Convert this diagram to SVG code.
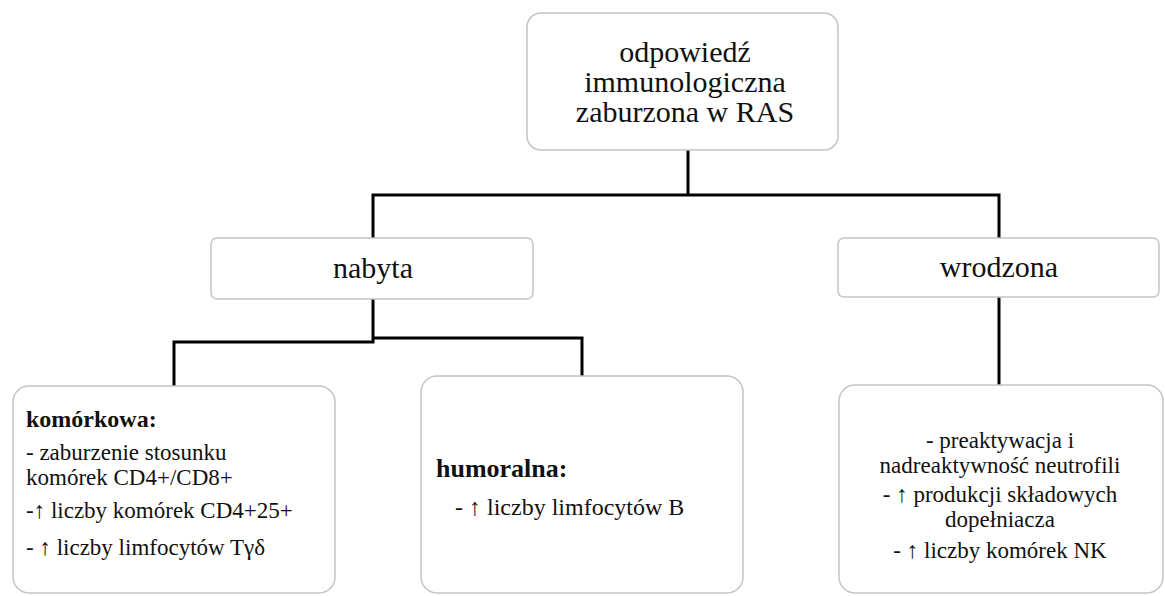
<svg xmlns="http://www.w3.org/2000/svg" width="1165" height="596" viewBox="0 0 1165 596">
<style>
.box{fill:#ffffff;stroke:#c4c4c4;stroke-width:1.5}
.t{font-family:"Liberation Serif","DejaVu Serif","Times New Roman",serif;fill:#111}
.c{text-anchor:middle}
.b{font-weight:bold}
.ln{fill:none;stroke:#000;stroke-width:3;stroke-linejoin:miter}
</style>
<rect width="1165" height="596" fill="#fff"/>
<g id="connectors">
<polyline class="ln" points="688,150 688,195"/>
<polyline class="ln" points="373,238 373,195 999,195 999,238"/>
<polyline class="ln" points="373,299 373,342 174,342 174,388"/>
<polyline class="ln" points="373,338 582,338 582,376"/>
<polyline class="ln" points="999,297 999,385"/>
</g>
<g id="root">
<rect class="box" x="527" y="13" width="311" height="137" rx="14"/>
<text class="t c" font-size="30" x="685" y="62">odpowiedź</text>
<text class="t c" font-size="30" x="685" y="92">immunologiczna</text>
<text class="t c" font-size="30" x="685" y="122">zaburzona w RAS</text>
</g>
<g id="nabyta">
<rect class="box" x="211" y="238" width="322" height="61" rx="6"/>
<text class="t c" font-size="30" x="373" y="278">nabyta</text>
</g>
<g id="wrodzona">
<rect class="box" x="838" y="238" width="321" height="59" rx="6"/>
<text class="t c" font-size="30" x="999" y="277">wrodzona</text>
</g>
<g id="komorkowa">
<rect class="box" x="13" y="386" width="322" height="207" rx="16"/>
<text class="t b" font-size="24" x="26" y="427">komórkowa:</text>
<text class="t" font-size="23" x="26" y="460">- zaburzenie stosunku</text>
<text class="t" font-size="23" x="26" y="485">komórek CD4+/CD8+</text>
<text class="t" font-size="23" x="26" y="518">-↑ liczby komórek CD4+25+</text>
<text class="t" font-size="23" x="26" y="555">- ↑ liczby limfocytów Tγδ</text>
</g>
<g id="humoralna">
<rect class="box" x="421" y="376" width="322" height="217" rx="16"/>
<text class="t b" font-size="26" x="436" y="477">humoralna:</text>
<text class="t" font-size="24" x="455" y="515">- ↑ liczby limfocytów B</text>
</g>
<g id="wrodzona-detail">
<rect class="box" x="839" y="385" width="324" height="208" rx="16"/>
<text class="t c" font-size="23" x="1000" y="448">- preaktywacja i</text>
<text class="t c" font-size="23" x="1000" y="473">nadreaktywność neutrofili</text>
<text class="t c" font-size="23" x="1000" y="502">- ↑ produkcji składowych</text>
<text class="t c" font-size="23" x="1000" y="527">dopełniacza</text>
<text class="t c" font-size="23" x="1000" y="558">- ↑ liczby komórek NK</text>
</g>
</svg>
